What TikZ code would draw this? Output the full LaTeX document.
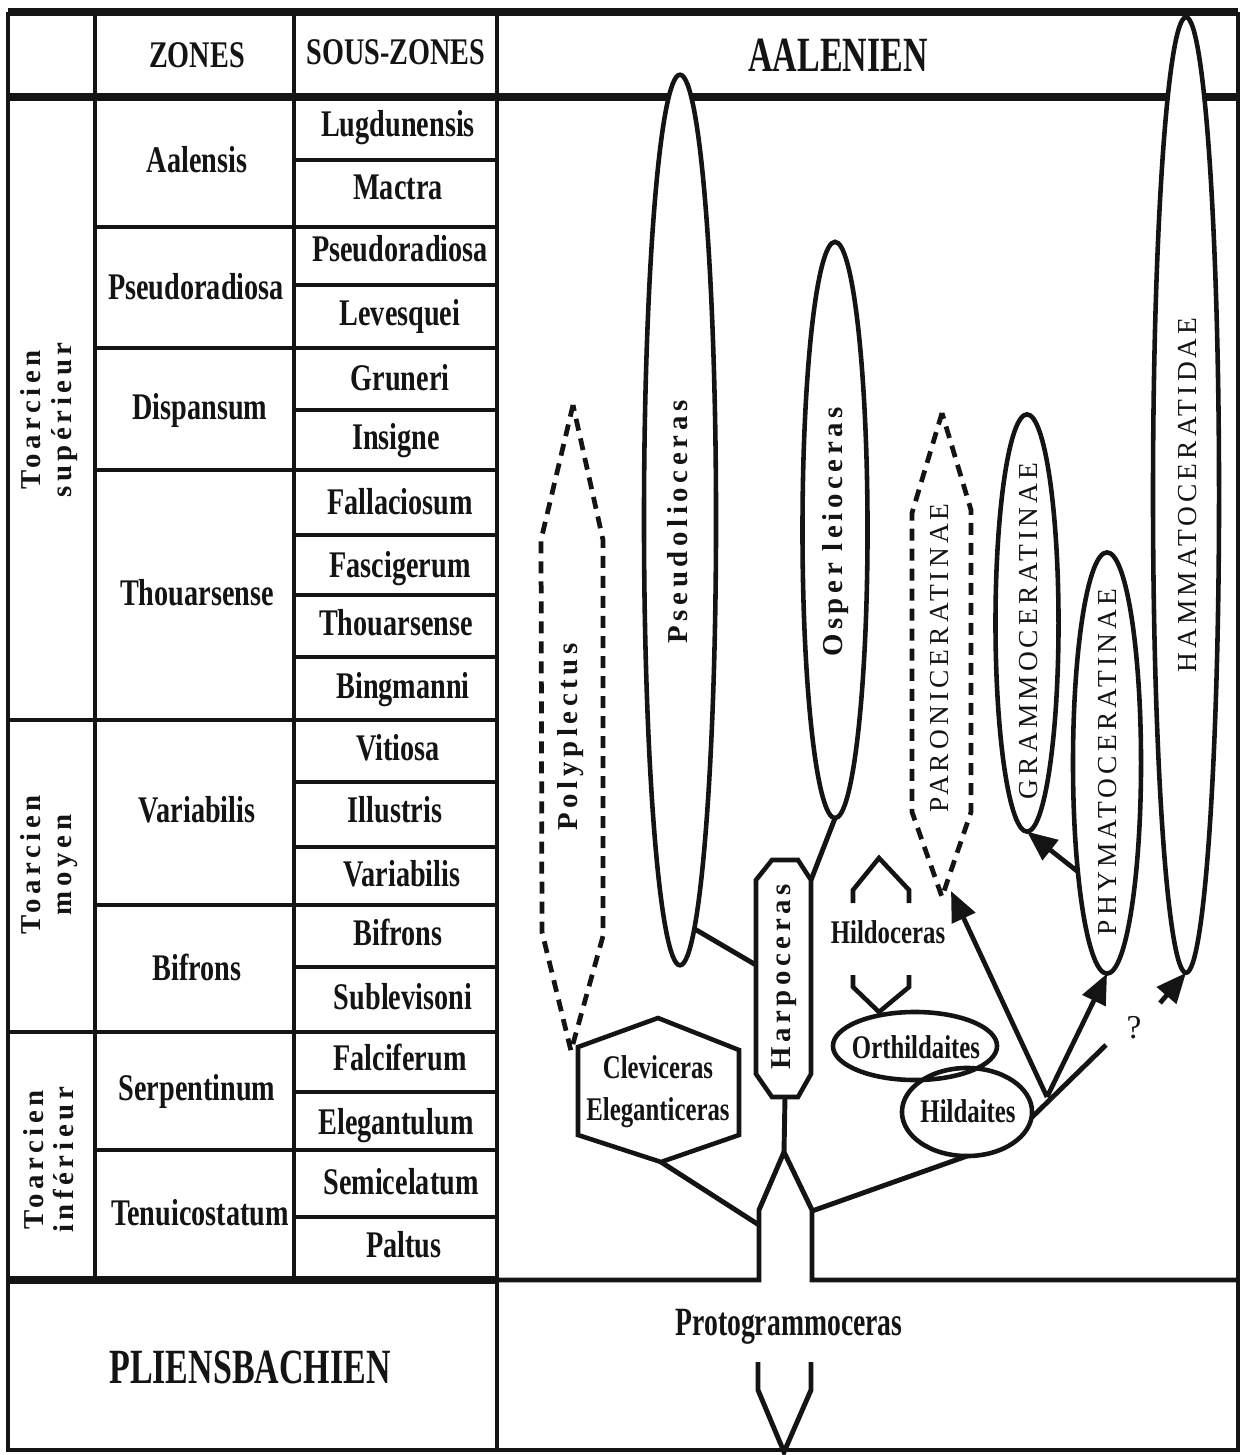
\documentclass[tikz,border=0pt]{standalone}
\usepackage{fontspec}
\setmainfont{Liberation Serif}
\newfontfamily\condfont[FakeStretch=0.75]{Liberation Serif}
\newfontfamily\narrowfont[FakeStretch=0.69]{Liberation Serif}
\newfontfamily\spacedfont[LetterSpace=16]{Liberation Serif}
\newfontfamily\capsfont[LetterSpace=15]{Liberation Serif}
\usetikzlibrary{shapes.geometric,arrows.meta}
\definecolor{ink}{HTML}{141414}
\begin{document}
\begin{tikzpicture}[x=0.01cm,y=-0.01cm,
  rule/.style={line width=1.4pt, draw=ink},
  bigrule/.style={line width=2pt, draw=ink},
  outline/.style={line width=1.3pt, draw=ink, line join=miter},
  dashline/.style={line width=1.35pt, draw=ink, dash pattern=on 0.12cm off 0.08cm},
  arrowline/.style={line width=1.35pt, draw=ink, -{Triangle[length=0.3cm,width=0.25cm]}},
  taxon/.style={ellipse, draw=ink, line width=1.3pt, fill=white, inner sep=0pt, outer sep=0pt},
  tab/.style={font=\condfont\bfseries\fontsize{10.7pt}{12pt}\selectfont, text=ink, inner sep=0pt, text height=7pt, text depth=0pt},
  chartlbl/.style={font=\condfont\bfseries\fontsize{9.4pt}{12pt}\selectfont, text=ink, inner sep=0pt, text height=6.2pt, text depth=0pt},
  bigtitle/.style={font=\narrowfont\bfseries\fontsize{14pt}{16pt}\selectfont, text=ink, inner sep=0pt, text height=9.3pt, text depth=0pt},
  vlabel/.style={font=\spacedfont\bfseries\fontsize{8.2pt}{8.6pt}\selectfont, text=ink, rotate=90, inner sep=0pt, align=center},
  vcaps/.style={font=\capsfont\fontsize{7.8pt}{8.6pt}\selectfont, text=ink, rotate=90, inner sep=0pt}
]
\useasboundingbox (0,0) rectangle (1242,1455);

% ---------------- table frame ----------------
\draw[bigrule] (8,12) -- (1238,12);
\draw[rule] (8,12) -- (8,1450) -- (1238,1450) -- (1238,12);
\draw[rule] (95,12) -- (95,1280);
\draw[rule] (294,12) -- (294,1280);
\draw[rule] (497,12) -- (497,1450);
\draw[bigrule] (8,97) -- (1238,97);
\draw[bigrule] (8,1280) -- (497,1280);
\foreach \y in {720,1032} \draw[rule] (8,\y) -- (497,\y);
\foreach \y in {227,348,470,905,1150} \draw[rule] (95,\y) -- (497,\y);
\foreach \y in {160,285,410,535,595,657,782,847,967,1092,1217} \draw[rule] (294,\y) -- (497,\y);

% ---------------- header texts ----------------
\node[tab] (hzones) at (197,55) {ZONES};
\node[tab] (hsous) at (396,52) {SOUS-ZONES};
\node[bigtitle] (aalen) at (838,55) {AALENIEN};
\node[bigtitle] (plien) at (250,1367) {PLIENSBACHIEN};

% ---------------- stages ----------------
\node[vlabel] (tsup) at (49,420) {Toarcien\\supérieur};
\node[vlabel] (tmoy) at (49,865) {Toarcien\\moyen};
\node[vlabel] (tinf) at (49,1160) {Toarcien\\inférieur};

% ---------------- zones ----------------
\node[tab] (z1) at (197,160) {Aalensis};
\node[tab] (z2) at (196,287) {Pseudoradiosa};
\node[tab] (z3) at (200,407) {Dispansum};
\node[tab] (z4) at (197,593) {Thouarsense};
\node[tab] (z5) at (197,810) {Variabilis};
\node[tab] (z6) at (197,968) {Bifrons};
\node[tab] (z7) at (197,1088) {Serpentinum};
\node[tab] (z8) at (200,1213) {Tenuicostatum};

% ---------------- sous-zones ----------------
\node[tab] (s1) at (398,124) {Lugdunensis};
\node[tab] (s2) at (398,187) {Mactra};
\node[tab] (s3) at (400,249) {Pseudoradiosa};
\node[tab] (s4) at (400,313) {Levesquei};
\node[tab] (s5) at (400,378) {Gruneri};
\node[tab] (s6) at (396,437) {Insigne};
\node[tab] (s7) at (400,502) {Fallaciosum};
\node[tab] (s8) at (400,565) {Fascigerum};
\node[tab] (s9) at (396,623) {Thouarsense};
\node[tab] (s10) at (403,686) {Bingmanni};
\node[tab] (s11) at (398,748) {Vitiosa};
\node[tab] (s12) at (395,810) {Illustris};
\node[tab] (s13) at (402,874) {Variabilis};
\node[tab] (s14) at (398,933) {Bifrons};
\node[tab] (s15) at (403,997) {Sublevisoni};
\node[tab] (s16) at (400,1058) {Falciferum};
\node[tab] (s17) at (396,1122) {Elegantulum};
\node[tab] (s18) at (401,1182) {Semicelatum};
\node[tab] (s19) at (404,1245) {Paltus};

% ---------------- phylogeny: root and branches ----------------
\coordinate (split) at (784,1152);
\coordinate (leftjoin) at (759,1225);
\coordinate (rightjoin) at (812,1211);
\draw[rule, line join=miter] (497,1280) -- (759,1280) -- (759,1210) -- (split) -- (812,1210) -- (812,1280) -- (1238,1280);

\node[font=\narrowfont\bfseries\fontsize{11.4pt}{13pt}\selectfont, text=ink, inner sep=0pt, text height=7.5pt, text depth=0pt] (proto) at (789,1322) {Protogrammoceras};
\coordinate (protoL) at (758,1362);
\coordinate (protoR) at (811,1362);
\coordinate (protoTip) at (784,1452);
\draw[rule, line join=miter] (protoL) -- (758,1390) -- (protoTip) -- (811,1390) -- (protoR);

% Polyplectus (dashed)
\coordinate (polyTop) at (573,405);
\coordinate (polyBot) at (571,1051);
\draw[dashline] (polyTop) -- (541,540) -- (542,932) -- (polyBot) -- (603,936) -- (603,540) -- cycle;
\node[vlabel] (poly) at (571,737) {Polyplectus};

% Cleviceras / Eleganticeras hexagon
\coordinate (clevB) at (661,1162);
\draw[outline] (658,1018) -- (739,1050) -- (739,1135) -- (clevB) -- (578,1135) -- (578,1047) -- cycle;
\node[font=\condfont\bfseries\fontsize{9.4pt}{12pt}\selectfont, text=ink, inner sep=0pt, align=center] (clev) at (658,1092) {Cleviceras\\Eleganticeras};
\draw[rule] (clevB) -- (leftjoin);

% Harpoceras octagon
\coordinate (harpB) at (785,1097);
\coordinate (harpL) at (756,965);
\coordinate (harpTR) at (811,880);
\draw[outline] (772,860) -- (798,860) -- (harpTR) -- (811,1074) -- (798,1097) -- (772,1097) -- (756,1074) -- (756,880) -- cycle;
\node[vlabel] (harp) at (784,977) {Harpoceras};
\draw[rule] (harpB) -- (split);

% large ellipses
\node[taxon, minimum width=0.72cm, minimum height=8.9cm] (pseudo) at (680,520) {};
\node[vlabel] (pseudoT) at (678,522) {Pseudolioceras};
\node[taxon, minimum width=0.65cm, minimum height=5.76cm] (osper) at (835,530) {};
\node[vlabel] (osperT) at (836,532) {Osper leioceras};
\node[taxon, minimum width=0.63cm, minimum height=4.17cm] (gram) at (1027,623) {};
\node[vcaps] (gramT) at (1029,631) {GRAMMOCERATINAE};
\node[taxon, minimum width=0.68cm, minimum height=4.21cm] (phym) at (1107,763) {};
\node[vcaps] (phymT) at (1108,762) {PHYMATOCERATINAE};
\node[taxon, minimum width=0.66cm, minimum height=9.55cm] (hamm) at (1186,495) {};
\node[vcaps] (hammT) at (1188,495) {HAMMATOCERATIDAE};

\draw[rule] (pseudo.272) -- (harpL);
\draw[rule] (osper.south) -- (harpTR);

% Paroniceratinae (dashed)
\coordinate (parTop) at (942,413);
\coordinate (parBot) at (942,897);
\draw[dashline] (parTop) -- (912,513) -- (912,812) -- (parBot) -- (971,812) -- (971,510) -- cycle;
\node[vcaps] (parT) at (940,658) {PARONICERATINAE};

% Hildoceras (partial octagon)
\node[chartlbl] (hildo) at (888,933) {Hildoceras};
\draw[outline] (853,903) -- (853,890) -- (879,858) -- (909,890) -- (909,903);
\draw[outline] (853,975) -- (853,987) -- (879,1012) -- (909,987) -- (909,975);

% Orthildaites and Hildaites
\node[taxon, fill=none, minimum width=1.64cm, minimum height=0.68cm] (orth) at (915,1046) {};
\node[chartlbl] (orthT) at (916,1048) {Orthildaites};
\node[taxon, fill=none, minimum width=1.30cm, minimum height=0.88cm] (hild) at (967,1112) {};
\node[chartlbl] (hildT) at (968,1112) {Hildaites};
\draw[rule] (hild.south) -- (rightjoin);

% arrows
\coordinate (fork) at (1047,1097);
\coordinate (parTip) at (951,891);
\coordinate (qEnd) at (1106,1045);
\coordinate (qStart) at (1160,1003);
\draw[arrowline] (fork) -- (parTip);
\draw[arrowline] (fork) -- (phym.south);
\draw[rule] (hild.355) -- (qEnd);
\node[font=\fontsize{9.5pt}{11pt}\selectfont, text=ink, inner sep=0pt] (qm) at (1134,1028) {?};
\draw[arrowline] (qStart) -- (hamm.south);
\draw[arrowline] (phym.255) -- (gram.south);
\end{tikzpicture}
\end{document}
